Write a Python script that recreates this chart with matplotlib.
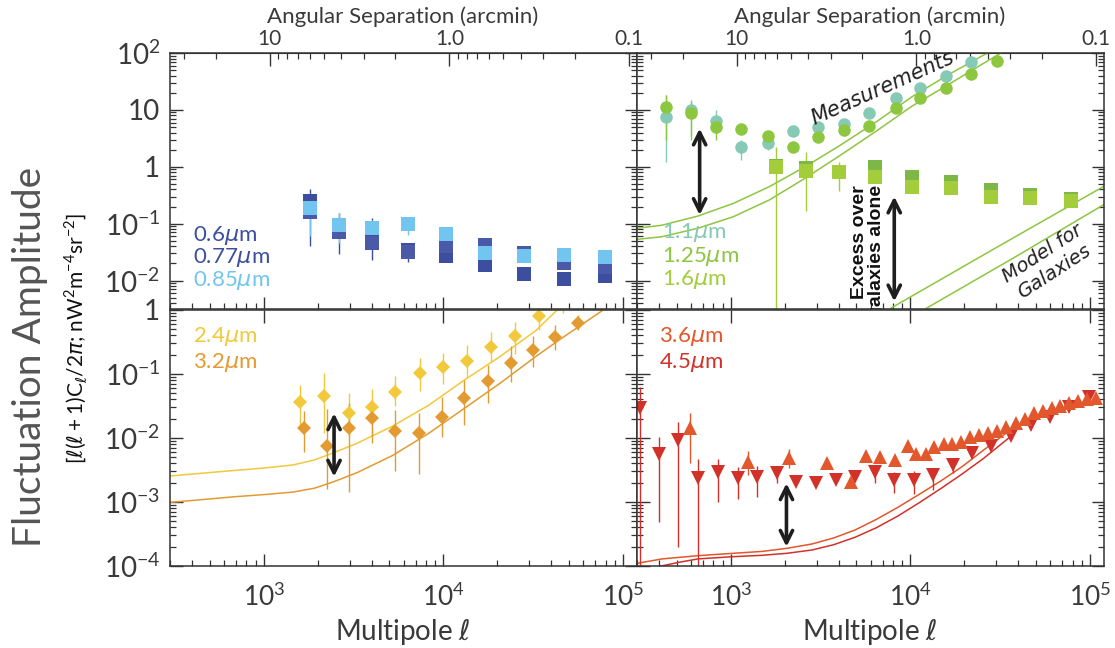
import numpy as np
import matplotlib
matplotlib.use("Agg")
import matplotlib.pyplot as plt
from matplotlib.ticker import FixedLocator, FixedFormatter, NullFormatter, LogLocator

plt.rcParams['font.family'] = ['Lato', 'DejaVu Sans']
plt.rcParams['mathtext.fontset'] = 'custom'
plt.rcParams['mathtext.rm'] = 'Lato'
plt.rcParams['mathtext.it'] = 'DejaVu Sans:italic'
plt.rcParams['mathtext.sf'] = 'Lato'

# ---------------- optical (HST / ACS) ----------------
opt_ell = [1810, 2620, 4000, 6350, 10350, 17070, 28130, 46950, 79400]
b060 = [0.25, 0.075, 0.05, 0.034, 0.027, 0.019, 0.013, 0.0105, 0.012]
b060_lo = [0.0406, 0.0294, 0.023, 0.0215, 0.027, 0.019, 0.013, 0.0105, 0.012]
b060_hi = [0.407, 0.154, 0.126, 0.046, 0.027, 0.019, 0.013, 0.0105, 0.012]
b077 = [0.16, 0.07, 0.045, 0.032, 0.04, 0.042, 0.03, 0.02, 0.017]
b085 = [0.19, 0.095, 0.085, 0.1, 0.066, 0.031, 0.027, 0.028, 0.026]
b085_lo = [0.0608, 0.0458, 0.05, 0.063, 0.066, 0.031, 0.027, 0.028, 0.026]
b085_hi = [0.319, 0.154, 0.117, 0.131, 0.066, 0.031, 0.027, 0.028, 0.026]

# ---------------- near-IR (1.1 - 1.6 um) ----------------
nir_ell = [434, 597, 830, 1145, 1600, 2225, 3066, 4250, 5850, 8260, 11320, 15780, 21800, 30400]
j110 = [7.4, 10.0, 6.5, 2.25, 2.65, 4.26, 5.07, 5.65, 8.7, 16, 24, 39.4, 68.7]
j110_lo = [1.2, 3.5, 4.0, 1.3, 2.0, 4.26, 5.07, 5.65, 8.7, 16, 24, 39.4, 68.7]
j110_hi = [18, 14, 10, 3.0, 3.2, 4.26, 5.07, 5.65, 8.7, 16, 24, 39.4, 68.7]
j125 = [11.1, 8.7, 5.07, 4.56, 3.48, 2.25, 3.3, 4.43, 5.2, 10.7, 16, 24, 42.8, 72.3]
j125_lo = [3.0, 3.0, 3.0, 3.7, 2.8, 2.25, 3.3, 4.43, 5.2, 10.7, 16, 24, 42.8, 72.3]
j125_hi = [18.6, 15, 7.5, 5.6, 4.2, 2.25, 3.3, 4.43, 5.2, 10.7, 16, 24, 42.8, 72.3]
h_ell = [1780, 2620, 4000, 6350, 10200, 16800, 28000, 46400, 78500]
h160a = [1.05, 0.95, 0.81, 1.0, 0.66, 0.55, 0.39, 0.32, 0.27]
h160b = [1.0, 0.85, 0.8, 0.66, 0.44, 0.43, 0.30, 0.28, 0.25]
h160b_lo = [1e-6, 0.17, 0.37, 0.66, 0.44, 0.43, 0.30, 0.28, 0.25]
h160b_hi = [2.2, 1.8, 1.2, 1.3, 0.44, 0.43, 0.30, 0.28, 0.25]

nir_model_ell = [300, 414, 655, 1035, 1637, 2588, 4093, 6471, 10230, 16150, 25580, 29380, 33650]
nir_model_hi = [0.083, 0.094, 0.136, 0.228, 0.447, 1.0, 2.42, 6.2, 17.1, 41, 92, 113, None]
nir_model_lo = [0.053, 0.059, 0.083, 0.133, 0.261, 0.627, 1.61, 4.26, 11.7, 27.4, 66, None, 110]
gal_hi_ell = [7770, 30700, 118600]
gal_hi = [0.00326, 0.0394, 0.447]
gal_lo_ell = [12280, 38600, 118600]
gal_lo = [0.00326, 0.0263, 0.213]

# ---------------- 2.4 / 3.2 um ----------------
k_ell = [1589, 2160, 2976, 4010, 5350, 7380, 9930, 13560, 18450, 25060, 34200, 46400]
k24 = [0.037, 0.0453, 0.0243, 0.0301, 0.053, 0.105, 0.130, 0.161, 0.267, 0.392, 0.806, 1.5]
k24_lo = [0.0159, 0.012, 0.0106, 0.0106, 0.032, 0.055, 0.071, 0.091, 0.156, 0.205, 0.486, 0.9]
k24_hi = [0.0676, 0.102, 0.05, 0.0575, 0.093, 0.176, 0.21, 0.284, 0.458, 0.657, 1.0, 2.0]
l_ell = [1664, 2240, 2990, 4010, 5400, 7310, 9840, 13090, 17620, 23710, 31550, 42100, 56400]
l32 = [0.0145, 0.0076, 0.0145, 0.0208, 0.0130, 0.0118, 0.0210, 0.0417, 0.0778, 0.150, 0.237, 0.374, 0.633]
l32_lo = [0.0061, 0.0016, 0.00144, 0.0083, 0.0031, 0.0027, 0.0104, 0.016, 0.035, 0.076, 0.13, 0.237, 0.486]
l32_hi = [0.0264, 0.0285, 0.0356, 0.0394, 0.0275, 0.025, 0.0434, 0.081, 0.138, 0.274, 0.392, 0.58, 0.83]
k24_model_ell = [300, 421, 665, 1052, 1452, 1909, 2455, 3300, 5230, 8270, 13090, 20650, 32660, 43050]
k24_model = [0.00255, 0.00277, 0.00309, 0.00344, 0.00379, 0.00453, 0.0059, 0.00826, 0.0154,
             0.0324, 0.0806, 0.187, 0.475, 1.0]
l32_model_ell = [300, 421, 665, 1052, 1452, 1909, 2455, 3300, 5230, 8270, 13090, 20650, 32660,
                 44670, 77600]
l32_model = [0.000988, 0.00107, 0.0012, 0.00132, 0.00143, 0.00164, 0.00208, 0.00287, 0.00536,
             0.0118, 0.0291, 0.0715, 0.187, 0.348, 1.0]

# ---------------- Spitzer 3.6 / 4.5 um ----------------
i2_ell = [312, 399, 509, 655, 850, 1094, 1400, 1811, 2318, 2971, 3838, 4913, 6320, 8130,
          10470, 13340, 17170, 22080, 28260, 36560, 46800, 60220, 76740, 98800]
i2 = [0.0291, 0.00562, 0.0093, 0.00234, 0.00298, 0.00234, 0.00249, 0.00287, 0.00208, 0.0020,
      0.00221, 0.00249, 0.00298, 0.00221, 0.00221, 0.00264, 0.00379, 0.00576, 0.00759, 0.01075,
      0.01596, 0.02154, 0.0309, 0.0442]
i2_lo = [1e-6, 0.000493, 0.0002, 1e-6, 0.000988, 0.0011, 0.00121, 0.00196, 0.00208, 0.0020,
         0.00221, 0.00249, 0.00196, 0.0014, 0.00133, 0.00154, 0.0028, 0.00576, 0.00759, 0.01075,
         0.01596, 0.02154, 0.0309, 0.0442]
i2_hi = [0.0619, 0.0105, 0.018, 0.00464, 0.00464, 0.00357, 0.00365, 0.00357, 0.00208, 0.0020,
         0.00221, 0.00249, 0.00357, 0.00291, 0.00309, 0.00309, 0.00453, 0.00576, 0.00759, 0.01075,
         0.01596, 0.02154, 0.0309, 0.0442]
i1_ell = [592, 1245, 2105, 3436, 4690, 5636, 6776, 8210, 9680, 10810, 12170, 13590, 15310,
          17070, 19230, 21580, 24210, 27160, 30410, 34120, 38640, 43250, 48530, 54450, 61090,
          68550, 76740, 86100, 96600, 108400]
i1 = [0.01416, 0.00427, 0.00481, 0.00402, 0.00208, 0.00524, 0.00511, 0.00453, 0.0075, 0.00562,
      0.00562, 0.00732, 0.00806, 0.00806, 0.00876, 0.0105, 0.01114, 0.01212, 0.01302, 0.01503,
      0.01695, 0.01957, 0.02429, 0.02673, 0.02907, 0.03162, 0.03481, 0.0383, 0.04019, 0.04169]
i1_lo = [0.00412, 0.00264, 0.00336] + i1[3:]
i1_hi = [0.0249, 0.00634, 0.00665] + i1[3:]
i1_model_ell = [300, 414, 655, 1035, 1493, 2057, 2835, 3735, 4914, 6471, 8520, 11210, 14760,
                19410, 25580, 33960]
i1_model = [1.10e-4, 1.29e-4, 1.45e-4, 1.58e-4, 1.69e-4, 1.89e-4, 2.21e-4, 2.74e-4, 3.65e-4,
            5.36e-4, 8.26e-4, 1.32e-3, 2.13e-3, 3.57e-3, 6.49e-3, 1.18e-2]
i2_model_ell = [396, 521, 655, 1035, 1493, 2057, 2835, 3735, 4914, 6471, 8520, 11210, 14760,
                19410, 25580, 36060]
i2_model = [9.8e-5, 1.15e-4, 1.29e-4, 1.40e-4, 1.47e-4, 1.58e-4, 1.78e-4, 2.15e-4, 2.81e-4,
            3.97e-4, 6.04e-4, 9.77e-4, 1.62e-3, 2.74e-3, 4.81e-3, 1.05e-2]

# double arrows: (ell, y_top, y_bottom)
arrow_nir_a = (670, 4.7, 0.142)
arrow_nir_b = (8130, 0.30, 0.0043)
arrow_kl = (2460, 0.0243, 0.00249)
arrow_irac = (2040, 0.00196, 0.0002)

# colours
C060, C077, C085 = '#3d4e9e', '#4a5aa8', '#72c5ee'
C110, C125, C160A, C160B = '#86c9b4', '#8dc63f', '#7cb748', '#a3cd3b'
C24, C32 = '#f1c93a', '#e39a30'
C36, C45 = '#e2572c', '#d2312a'
TXT = '#3a3a3a'

XLIM = (300, 1.19e5)


def errs(val, lo, hi):
    v = np.asarray(val, float)
    return [v - np.asarray(lo, float)[:len(v)], np.asarray(hi, float)[:len(v)] - v]


def ell_to_theta(ell):
    ell = np.asarray(ell, float)
    with np.errstate(divide='ignore'):
        return 10800.0 / ell


def line_pts(xs, ys):
    pts = [(x, y) for x, y in zip(xs, ys) if y is not None]
    return [p[0] for p in pts], [p[1] for p in pts]


fig = plt.figure(figsize=(11.15, 6.48), dpi=100)
W, H = 1115.0, 648.0
x_left, x_right, pw = 170 / W, 637 / W, 466.5 / W
y_top, y_bot, ph = 1 - 309 / H, 1 - 566 / H, 256 / H

ax_opt = fig.add_axes([x_left, y_top, pw, ph])
ax_nir = fig.add_axes([x_right, y_top, pw, ph])
ax_kl = fig.add_axes([x_left, y_bot, pw, ph])
ax_irac = fig.add_axes([x_right, y_bot, pw, ph])

for ax in (ax_opt, ax_nir, ax_kl, ax_irac):
    ax.set_xscale('log')
    ax.set_yscale('log')
    ax.set_xlim(*XLIM)
    for s in ax.spines.values():
        s.set_color('#333333')
        s.set_linewidth(1.1)
    ax.tick_params(which='both', direction='in', right=True, colors='#333333',
                   labelcolor=TXT)
    ax.tick_params(axis='y', labelsize=20, pad=7)
    ax.tick_params(axis='x', labelsize=19)
    ax.tick_params(which='major', length=9, width=1)
    ax.tick_params(which='minor', length=4.5, width=0.9)
    ax.xaxis.set_minor_locator(LogLocator(base=10, subs=np.arange(2, 10)))
    ax.yaxis.set_minor_locator(LogLocator(base=10, subs=np.arange(2, 10), numticks=20))
    ax.yaxis.set_minor_formatter(NullFormatter())
    ax.xaxis.set_minor_formatter(NullFormatter())

for ax in (ax_opt, ax_nir):
    ax.set_ylim(10 ** -2.5, 100)
    ax.yaxis.set_major_locator(FixedLocator([1e-2, 1e-1, 1, 10, 100]))
    ax.yaxis.set_major_formatter(FixedFormatter(['$10^{-2}$', '$10^{-1}$', '1', '10', '$10^{2}$']))
    ax.tick_params(axis='x', top=False, labelbottom=False)
    sec = ax.secondary_xaxis('top', functions=(ell_to_theta, ell_to_theta))
    sec.set_xticks([10, 1, 0.1])
    sec.set_xticklabels(['10', '1.0', '0.1'])
    sec.xaxis.set_minor_locator(LogLocator(base=10, subs=np.arange(2, 10)))
    sec.xaxis.set_minor_formatter(NullFormatter())
    sec.tick_params(which='both', direction='in', colors='#333333', labelcolor=TXT,
                    labelsize=15, pad=3)
    sec.tick_params(which='major', length=9, width=1)
    sec.tick_params(which='minor', length=4.5, width=0.9)
    sec.spines['top'].set_color('#333333')

for ax in (ax_kl, ax_irac):
    ax.set_ylim(1e-4, 1)
    ax.yaxis.set_major_locator(FixedLocator([1e-4, 1e-3, 1e-2, 1e-1, 1]))
    ax.yaxis.set_major_formatter(FixedFormatter(['$10^{-4}$', '$10^{-3}$', '$10^{-2}$', '$10^{-1}$', '1']))
    ax.xaxis.set_major_locator(FixedLocator([1e3, 1e4, 1e5]))
    ax.xaxis.set_major_formatter(FixedFormatter(['$10^{3}$', '$10^{4}$', '$10^{5}$']))
    ax.tick_params(axis='x', top=True, pad=12)

for ax in (ax_nir, ax_irac):
    ax.tick_params(axis='y', labelleft=False)

ebkw = dict(elinewidth=1.0, capsize=2.2, capthick=1.0, mew=0, linestyle='none')
LBL = 16

# --- optical panel
ax_opt.errorbar(opt_ell, b060, yerr=errs(b060, b060_lo, b060_hi), fmt='s', ms=9.5,
                color=C060, ecolor=C060, **ebkw)
ax_opt.errorbar(opt_ell, b077, fmt='s', ms=9.5, color=C077, **ebkw)
ax_opt.errorbar(opt_ell, b085, yerr=errs(b085, b085_lo, b085_hi), fmt='s', ms=9.5,
                color=C085, ecolor=C085, **ebkw)
for txt, col, ya in [('0.6$\\mu$m', C060, 0.289), ('0.77$\\mu$m', C060, 0.201),
                     ('0.85$\\mu$m', C085, 0.113)]:
    ax_opt.text(0.049, ya, txt, color=col, fontsize=LBL, transform=ax_opt.transAxes,
                ha='left', va='center')

# --- near-IR panel
x, y = line_pts(nir_model_ell, nir_model_hi)
ax_nir.plot(x, y, color=C125, lw=1.1)
x, y = line_pts(nir_model_ell, nir_model_lo)
ax_nir.plot(x, y, color=C125, lw=1.1)
ax_nir.plot(gal_hi_ell, gal_hi, color=C125, lw=1.1)
ax_nir.plot(gal_lo_ell, gal_lo, color=C125, lw=1.1)
ax_nir.errorbar(nir_ell[:len(j110)], j110, yerr=errs(j110, j110_lo, j110_hi), fmt='o', ms=9,
                color=C110, ecolor=C110, **ebkw)
ax_nir.errorbar(nir_ell, j125, yerr=errs(j125, j125_lo, j125_hi), fmt='o', ms=9,
                color=C125, ecolor=C125, **ebkw)
ax_nir.errorbar(h_ell, h160a, fmt='s', ms=9.5, color=C160A, **ebkw)
ax_nir.errorbar(h_ell, h160b, yerr=errs(h160b, h160b_lo, h160b_hi), fmt='s', ms=9.5,
                color=C160B, ecolor=C160B, **ebkw)
for txt, col, ya in [('1.1$\\mu$m', C110, 0.297), ('1.25$\\mu$m', C125, 0.207),
                     ('1.6$\\mu$m', C160B, 0.117)]:
    ax_nir.text(0.054, ya, txt, color=col, fontsize=LBL, transform=ax_nir.transAxes,
                ha='left', va='center')
ax_nir.text(0.526, 0.863, 'Measurements', fontsize=15, style='italic', color='#222222',
            rotation=24, ha='center', va='center', transform=ax_nir.transAxes,
            family=['DejaVu Sans'])
ax_nir.text(0.882, 0.18, 'Model for\nGalaxies', fontsize=14, style='italic', color='#222222',
            rotation=33, ha='center', va='center', multialignment='center',
            transform=ax_nir.transAxes, family=['DejaVu Sans'])
ax_nir.text(0.496, 0.484, 'Excess over\ngalaxies alone', fontsize=14, fontweight='bold',
            family=['Liberation Sans'], color='#111111', rotation=90, ha='center', va='top',
            multialignment='right', transform=ax_nir.transAxes, clip_on=True,
            linespacing=1.0)

# --- 2.4 / 3.2 um panel
ax_kl.plot(k24_model_ell, k24_model, color=C24, lw=1.1)
ax_kl.plot(l32_model_ell, l32_model, color=C32, lw=1.1)
ax_kl.errorbar(k_ell, k24, yerr=errs(k24, k24_lo, k24_hi), fmt='D', ms=7.5,
               color=C24, ecolor=C24, **ebkw)
ax_kl.errorbar(l_ell, l32, yerr=errs(l32, l32_lo, l32_hi), fmt='D', ms=7.5,
               color=C32, ecolor=C32, **ebkw)
for txt, col, ya in [('2.4$\\mu$m', C24, 0.895), ('3.2$\\mu$m', C32, 0.793)]:
    ax_kl.text(0.049, ya, txt, color=col, fontsize=LBL, transform=ax_kl.transAxes,
               ha='left', va='center')

# --- IRAC panel
ax_irac.plot(i1_model_ell, i1_model, color=C36, lw=1.1)
ax_irac.plot(i2_model_ell, i2_model, color=C45, lw=1.1)
ax_irac.errorbar(i2_ell, i2, yerr=errs(i2, i2_lo, i2_hi), fmt='v', ms=10,
                 color=C45, ecolor=C45, **ebkw)
ax_irac.errorbar(i1_ell, i1, yerr=errs(i1, i1_lo, i1_hi), fmt='^', ms=10,
                 color=C36, ecolor=C36, **ebkw)
for txt, col, ya in [('3.6$\\mu$m', C36, 0.895), ('4.5$\\mu$m', C45, 0.793)]:
    ax_irac.text(0.047, ya, txt, color=col, fontsize=LBL, transform=ax_irac.transAxes,
                 ha='left', va='center')

# double-headed arrows marking the excess
for ax, (xa, ytop, ybot) in [(ax_nir, arrow_nir_a), (ax_nir, arrow_nir_b),
                             (ax_kl, arrow_kl), (ax_irac, arrow_irac)]:
    ax.annotate('', xy=(xa, ytop), xytext=(xa, ybot),
                arrowprops=dict(arrowstyle='<->', lw=2.6, color='#1e1e1e',
                                mutation_scale=22, shrinkA=0, shrinkB=0))

# figure labels
fig.text(30 / W, 1 - 357 / H, 'Fluctuation Amplitude', rotation=90, fontsize=28,
         color='#555555', ha='center', va='center')
fig.text(76 / W, 1 - 338 / H,
         r'[$\ell(\ell+1)$C$_\ell$/2$\pi$; nW$^{2}$m$^{-4}$sr$^{-2}$]',
         rotation=90, fontsize=15, color='#111111', ha='center', va='center')
for xc in (403 / W, 870 / W):
    fig.text(xc, 1 - 632 / H, r'Multipole $\ell$', fontsize=20, color=TXT,
             ha='center', va='center')
    fig.text(xc, 1 - 17 / H, 'Angular Separation (arcmin)', fontsize=16, color=TXT,
             ha='center', va='center')

fig.savefig('out.png', dpi=100)
